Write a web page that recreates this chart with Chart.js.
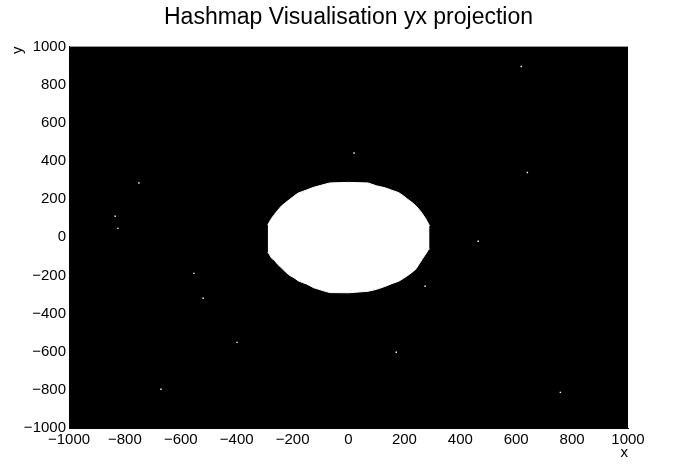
<!DOCTYPE html>
<html>
<head>
<meta charset="utf-8">
<script src="https://cdn.jsdelivr.net/npm/chart.js@4.4.0/dist/chart.umd.min.js"></script>
<style>
  body { margin: 0; background: #fff; }
  #wrap { width: 698px; height: 476px; }
</style>
</head>
<body>
<div id="wrap"><canvas id="myChart" width="698" height="476"></canvas></div>
<script>
"use strict";

// occupied region (the big blob), boundary
const blobX = [-289, -283, -275, -265, -253, -240, -225, -210, -195, -180, -165, -150, -125, -95, -67, 0, 70, 100, 130, 155, 180, 197, 212, 228, 242, 255, 266, 276, 284, 290];
const blobTop = [64, 80, 100, 120, 142, 164, 182, 199, 216, 232, 240, 248, 262, 274, 285, 288, 285, 270, 260, 247, 234, 217, 199, 182, 164, 142, 120, 98, 76, 60];
const blobBottom = [-77, -90, -110, -121, -142, -160, -182, -200, -212, -228, -237, -245, -264, -278, -290, -291, -283, -273, -258, -243, -230, -215, -200, -183, -165, -135, -110, -88, -69, -60];

// scattered single entries
const dotX = [-750, -835, -825, 618, 20, 640, -553, -520, -399, -671, 464, 274, 171, 758];
const dotY = [285, 110, 47, 896, 442, 340, -189, -320, -551, -797, -21, -257, -603, -813];

const tickMin = -1000;
const tickMax = 1000;
const tickStep = 200;

const topPts = [];
const bottomPts = [];
for (let i = 0; i < blobX.length; i++) {
  topPts.push({ x: blobX[i], y: blobTop[i] });
  bottomPts.push({ x: blobX[i], y: blobBottom[i] });
}
const dots = [];
for (let i = 0; i < dotX.length; i++) {
  dots.push({ x: dotX[i], y: dotY[i] });
}

const blackArea = {
  id: 'blackArea',
  beforeDraw(chart) {
    const a = chart.chartArea;
    const ctx = chart.ctx;
    ctx.save();
    ctx.fillStyle = '#000';
    ctx.fillRect(a.left, a.top, a.right - a.left, a.bottom - a.top);
    ctx.restore();
  }
};

function fmt(v) {
  return String(v).replace('-', '\u2212');
}

const font = { family: "'Liberation Sans', Arial, sans-serif", size: 15 };

const config = {
  type: 'scatter',
  data: {
    datasets: [
      {
        data: topPts,
        showLine: true,
        fill: '+1',
        backgroundColor: '#fff',
        borderColor: '#fff',
        borderWidth: 1,
        pointRadius: 0
      },
      {
        data: bottomPts,
        showLine: true,
        fill: false,
        borderColor: '#fff',
        borderWidth: 1,
        pointRadius: 0
      },
      {
        data: dots,
        pointStyle: 'rect',
        pointRadius: 1,
        backgroundColor: '#fff',
        borderColor: '#fff',
        borderWidth: 0
      }
    ]
  },
  options: {
    responsive: false,
    animation: false,
    devicePixelRatio: 1,
    layout: { padding: { left: 0, right: 70, top: 0, bottom: 0 } },
    plugins: {
      legend: { display: false },
      tooltip: { enabled: false },
      title: {
        display: true,
        fullSize: false,
        text: 'Hashmap Visualisation yx projection',
        color: '#000',
        font: { family: font.family, size: 23, weight: 'normal' },
        padding: { top: 4, bottom: 15 }
      }
    },
    scales: {
      x: {
        type: 'linear',
        min: tickMin,
        max: tickMax,
        grid: { display: false, drawTicks: false },
        border: { display: true, color: '#000' },
        ticks: { stepSize: tickStep, color: '#000', font: font, padding: 3, maxRotation: 0, callback: fmt },
        title: { display: true, text: 'x', align: 'end', color: '#000', font: font, padding: { top: 0, bottom: 14 } },
        afterFit(scale) { scale.height = 48; }
      },
      y: {
        type: 'linear',
        min: tickMin,
        max: tickMax,
        grid: { display: false, drawTicks: false },
        border: { display: true, color: '#000' },
        ticks: { stepSize: tickStep, color: '#000', font: font, padding: 3, callback: fmt },
        title: { display: true, text: 'y', align: 'end', color: '#000', font: font, padding: { top: 9, bottom: 0 } },
        afterFit(scale) { scale.width = 69; }
      }
    }
  },
  plugins: [blackArea]
};

const myChart = new Chart(document.getElementById('myChart'), config);
</script>
</body>
</html>
